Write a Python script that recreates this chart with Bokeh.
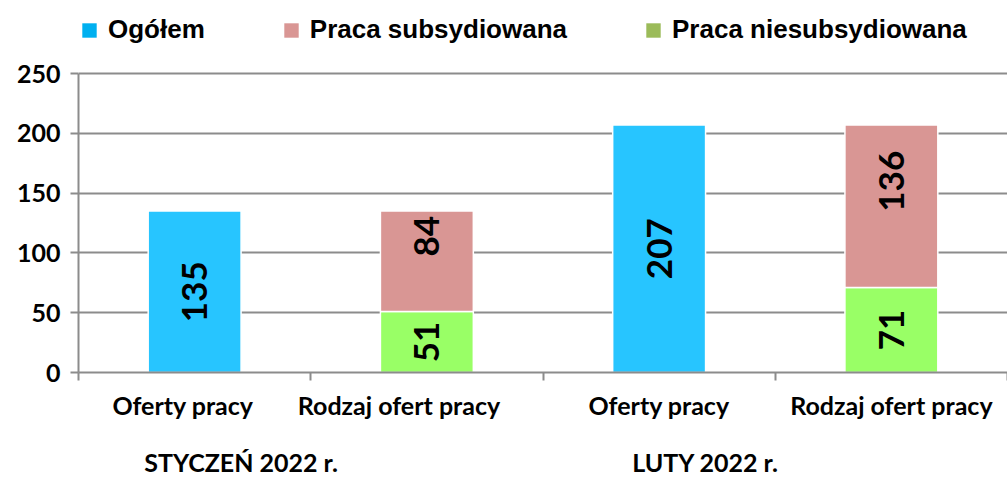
from math import pi
from bokeh.plotting import figure
from bokeh.models import (Range1d, FixedTicker, ColumnDataSource, LabelSet, Legend, LegendItem,
                          LinearAxis, CustomJSTickFormatter)
from bokeh.embed import file_html
from bokeh.resources import INLINE
from bokeh.core.properties import value

# ---- data ----
months = ["STYCZEŃ 2022 r.", "LUTY 2022 r."]
subcats = ["Oferty pracy", "Rodzaj ofert pracy"]
ogolem = [135, 207]
subsydiowana = [84, 136]
niesubsydiowana = [51, 71]
series_names = ["Ogółem", "Praca subsydiowana", "Praca niesubsydiowana"]
y_ticks = [0, 50, 100, 150, 200, 250]

# ---- styles ----
BAR_BLUE = "#27C5FF"
BAR_PINK = "#D99694"
BAR_GREEN = "#99FF66"
LEG_COLORS = ["#00B0F0", "#D99694", "#9BBB59"]
GRID = "#8C8C8C"
FONT = "Lato"

W, H = 1007, 479
BOTTOM, LEFT = 107, 78
FRAME_H = H - BOTTOM
HEADROOM = 73                       # px between canvas top and the 250 gridline (legend lives there)
GROUP_SHIFT = 0.2                   # month caption sits right of the first slot centre
LABEL_NUDGE = [-0.05, -0.12, 0, 0]  # category labels of the first month sit slightly left

# category slots: each (month, subcat) occupies one unit on the x scale
factors = [(m, s) for m in months for s in subcats]
n = len(factors)
centers = [i + 0.5 for i in range(n)]
bounds = list(range(n + 1))
pos = {f: c for f, c in zip(factors, centers)}

y_end = y_ticks[-1] * FRAME_H / (FRAME_H - HEADROOM)
p = figure(x_range=Range1d(0, n), y_range=Range1d(y_ticks[0], y_end),
           width=W, height=H, output_backend="svg", toolbar_location=None,
           min_border_left=LEFT, min_border_right=0,
           min_border_top=0, min_border_bottom=BOTTOM)
p.outline_line_color = None
p.background_fill_color = "white"

# y axis + grid
yt = FixedTicker(ticks=y_ticks, minor_ticks=[])
p.yaxis.ticker = yt
p.ygrid.ticker = yt
p.yaxis.bounds = (y_ticks[0], y_ticks[-1])
p.yaxis.axis_line_color = GRID
p.yaxis.axis_line_width = 2
p.yaxis.major_tick_line_color = GRID
p.yaxis.major_tick_line_width = 2
p.yaxis.major_tick_out = 8
p.yaxis.major_tick_in = 0
p.yaxis.minor_tick_line_color = None
p.yaxis.major_label_text_font = FONT
p.yaxis.major_label_text_font_style = "bold"
p.yaxis.major_label_text_font_size = "25px"
p.yaxis.major_label_text_color = "black"
p.yaxis.major_label_standoff = 10
p.ygrid.grid_line_color = GRID
p.ygrid.grid_line_width = 2
p.xgrid.grid_line_color = None

# x axis: labels at slot centres, tick marks at slot boundaries
xa = p.xaxis[0]
xa.ticker = FixedTicker(ticks=[c + d for c, d in zip(centers, LABEL_NUDGE)], minor_ticks=bounds)
xa.formatter = CustomJSTickFormatter(args=dict(names=[f[1] for f in factors]),
                                     code="return names[index]")
xa.axis_line_color = GRID
xa.axis_line_width = 2
xa.major_tick_line_color = None
xa.major_tick_out = 0
xa.major_tick_in = 0
xa.minor_tick_line_color = GRID
xa.minor_tick_line_width = 2
xa.minor_tick_out = 8
xa.minor_tick_in = 0
xa.major_label_text_font = FONT
xa.major_label_text_font_style = "bold"
xa.major_label_text_font_size = "25px"
xa.major_label_text_color = "black"
xa.major_label_standoff = 9

# second x axis carrying the month captions
gx = [pos[(m, subcats[0])] + GROUP_SHIFT for m in months]
ga = LinearAxis(ticker=FixedTicker(ticks=gx, minor_ticks=[]),
                formatter=CustomJSTickFormatter(args=dict(names=months), code="return names[index]"),
                axis_line_color=None, major_tick_line_color=None, minor_tick_line_color=None,
                major_tick_out=0, major_tick_in=0,
                major_label_text_font=FONT, major_label_text_font_style="bold",
                major_label_text_font_size="25px", major_label_text_color="black",
                major_label_standoff=24)
p.add_layout(ga, "below")

# bars
tot_x = [pos[(m, subcats[0])] for m in months]
tot = ColumnDataSource(dict(x=tot_x, top=ogolem,
                            ly=[v / 2 for v in ogolem], lab=[str(v) for v in ogolem]))
p.vbar(x="x", top="top", width=0.4, source=tot, fill_color=BAR_BLUE,
       line_color="white", line_width=1.5)

stk_x = [pos[(m, subcats[1])] for m in months]
green = ColumnDataSource(dict(x=stk_x, bottom=[0] * len(months), top=niesubsydiowana,
                              ly=[v / 2 for v in niesubsydiowana],
                              lab=[str(v) for v in niesubsydiowana]))
pink_top = [a + b for a, b in zip(niesubsydiowana, subsydiowana)]
pink = ColumnDataSource(dict(x=stk_x, bottom=niesubsydiowana, top=pink_top,
                             ly=[a + b / 2 for a, b in zip(niesubsydiowana, subsydiowana)],
                             lab=[str(v) for v in subsydiowana]))
p.vbar(x="x", bottom="bottom", top="top", width=0.4, source=green, fill_color=BAR_GREEN,
       line_color="white", line_width=1.5)
p.vbar(x="x", bottom="bottom", top="top", width=0.4, source=pink, fill_color=BAR_PINK,
       line_color="white", line_width=1.5)

for src, dy in ((tot, 0), (green, 0), (pink, 25)):
    p.add_layout(LabelSet(x="x", y="ly", text="lab", source=src, angle=pi / 2,
                          y_offset=dy, text_align="center", text_baseline="middle",
                          text_font=value(FONT), text_font_style="bold",
                          text_font_size="35px", text_color="black"))

# legend (renderers with legend colours; zero-size so nothing shows in the frame)
items = []
for name, col in zip(series_names, LEG_COLORS):
    r = p.vbar(x=[centers[0]], top=[0], width=0.0, fill_color=col, line_color=None)
    items.append(LegendItem(label=name, renderers=[r]))
legend = Legend(items=items, orientation="horizontal", location=(2, FRAME_H - 45),
                glyph_width=18, glyph_height=18, label_standoff=10, spacing=77,
                padding=8, margin=0, border_line_color=None, background_fill_alpha=0,
                label_text_font="Liberation Sans", label_text_font_style="bold",
                label_text_font_size="26px", label_text_color="black")
p.add_layout(legend)

open("out.html", "w").write(file_html(p, INLINE))
